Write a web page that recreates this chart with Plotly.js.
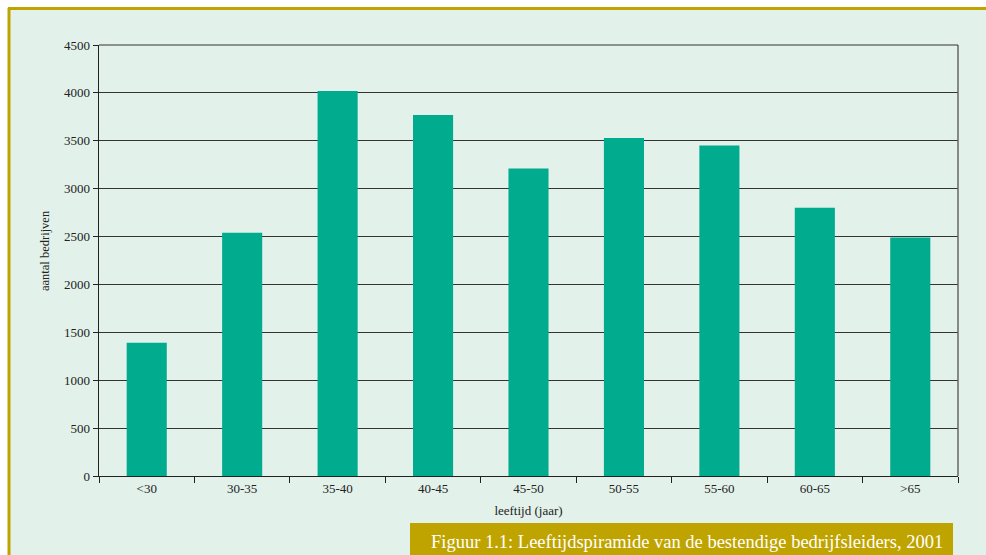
<!DOCTYPE html>
<html><head><meta charset="utf-8">
<script src="https://cdn.plot.ly/plotly-3.0.1.min.js"></script>
<style>html,body{margin:0;padding:0;background:#fff;}#chart{width:986px;height:555px;}</style>
</head><body><div id="chart"></div>
<script>
const categories = ['<30','30-35','35-40','40-45','45-50','50-55','55-60','60-65','>65'];
const bedrijven = [1390, 2540, 4020, 3770, 3210, 3530, 3450, 2800, 2490];
const yTicks = [0,500,1000,1500,2000,2500,3000,3500,4000,4500];

const W = 986, H = 555, L = 99, R = 28, T = 45, B = 79;
const pw = W - L - R, ph = H - T - B;
const px = x => (x - L) / pw;
const py = y => (H - B - y) / ph;

const serif = 'Liberation Serif, Times New Roman, serif';
const gold = '#BFA400';

const trace = {
  type: 'bar', x: categories, y: bedrijven,
  marker: {color: '#00AB8E', line: {width: 0}},
  hoverinfo: 'x+y'
};

const layout = {
  width: W, height: H,
  margin: {l: L, r: R, t: T, b: B, pad: 0},
  paper_bgcolor: '#ffffff',
  plot_bgcolor: 'rgba(0,0,0,0)',
  bargap: 0.58,
  showlegend: false,
  font: {family: serif, size: 13, color: '#222'},
  xaxis: {
    type: 'category', tickson: 'boundaries', ticks: 'outside', ticklen: 6, tickcolor: '#222',
    showline: true, linecolor: '#222', linewidth: 1, mirror: false,
    showgrid: false, tickfont: {family: serif, size: 13, color: '#222'},
    title: {text: 'leeftijd (jaar)', font: {family: serif, size: 13, color: '#222'}, standoff: 11}
  },
  yaxis: {
    range: [0, 4500], tickvals: yTicks, ticks: 'outside', ticklen: 5, tickcolor: '#222',
    showline: true, linecolor: '#222', linewidth: 1.5,
    showgrid: true, gridcolor: '#333', gridwidth: 1, zeroline: false,
    tickfont: {family: serif, size: 13, color: '#222'}
  },
  shapes: [
    {type: 'rect', xref: 'paper', yref: 'paper', layer: 'below',
     x0: px(9), x1: px(990), y0: py(9), y1: py(560), fillcolor: '#E2F1EA', line: {width: 0}},
    {type: 'line', xref: 'paper', yref: 'paper', layer: 'below',
     x0: px(8), x1: px(990), y0: py(8.5), y1: py(8.5), line: {color: gold, width: 3}},
    {type: 'line', xref: 'paper', yref: 'paper', layer: 'below',
     x0: px(9), x1: px(9), y0: py(8), y1: py(560), line: {color: gold, width: 3}},
    {type: 'line', xref: 'paper', yref: 'paper', layer: 'above',
     x0: 1, x1: 1, y0: 0, y1: 1, line: {color: '#666', width: 1.5}},
    {type: 'line', xref: 'paper', yref: 'paper', layer: 'above',
     x0: 0, x1: 1, y0: 1, y1: 1, line: {color: '#333', width: 1}},
    {type: 'rect', xref: 'paper', yref: 'paper', layer: 'above',
     x0: px(410), x1: px(953), y0: py(523), y1: py(560), fillcolor: gold, line: {width: 0}}
  ],
  annotations: [
    {xref: 'paper', yref: 'paper', x: px(45), y: py(251), xanchor: 'center', yanchor: 'middle',
     textangle: -90, text: 'aantal bedrijven', showarrow: false,
     font: {family: serif, size: 12.5, color: '#222'}},
    {xref: 'paper', yref: 'paper', x: px(945), y: py(542), xanchor: 'right', yanchor: 'middle',
     text: 'Figuur 1.1: Leeftijdspiramide van de bestendige bedrijfsleiders, 2001',
     showarrow: false, font: {family: serif, size: 18.5, color: '#ffffff'}}
  ]
};

Plotly.newPlot('chart', [trace], layout, {displayModeBar: false, staticPlot: true});
</script></body></html>
